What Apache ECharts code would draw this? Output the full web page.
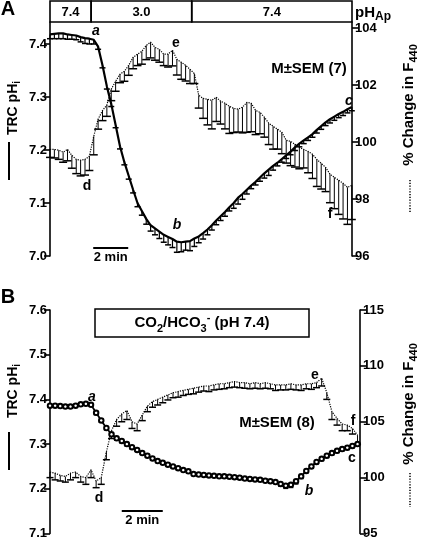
<!DOCTYPE html>
<html><head><meta charset="utf-8">
<script src="https://cdn.jsdelivr.net/npm/echarts@6/dist/echarts.min.js"></script>
<style>html,body{margin:0;padding:0;background:#fff}#c{width:422px;height:540px}</style>
</head><body><div id="c"></div>
<script>
// ---------- Panel A data (time in min) ----------
const timeA = [0,0.25,0.5,0.75,1,1.25,1.5,1.75,2,2.25,2.5,2.75,3,3.25,3.5,3.75,4,4.25,4.5,4.75,5,5.25,5.5,5.75,6,6.25,6.5,6.75,7,7.25,7.5,7.75,8,8.25,8.5,8.75,9,9.25,9.5,9.75,10,10.25,10.5,10.75,11,11.25,11.5,11.75,12,12.25,12.5,12.75,13,13.25,13.5,13.75,14,14.25,14.5,14.75,15,15.25,15.5,15.75,16,16.25,16.5,16.75,17,17.25];
const pHiA = [7.418,7.419,7.420,7.420,7.418,7.417,7.416,7.413,7.411,7.410,7.408,7.395,7.36,7.32,7.287,7.247,7.207,7.177,7.151,7.125,7.10,7.085,7.07,7.058,7.052,7.046,7.040,7.036,7.032,7.027,7.026,7.027,7.028,7.033,7.037,7.043,7.050,7.058,7.067,7.075,7.083,7.092,7.100,7.110,7.117,7.125,7.133,7.140,7.148,7.156,7.163,7.170,7.176,7.183,7.190,7.197,7.205,7.212,7.218,7.224,7.230,7.238,7.245,7.252,7.258,7.263,7.268,7.272,7.277,7.281];
const pHiA_sem = [0.008,0.009,0.010,0.010,0.009,0.008,0.008,0.009,0.010,0.010,0.008,0.005,0.005,0.005,0.005,0.005,0.005,0.005,0.006,0.006,0.007,0.008,0.010,0.011,0.012,0.013,0.014,0.015,0.016,0.020,0.018,0.016,0.018,0.015,0.012,0.011,0.010,0.009,0.008,0.008,0.008,0.007,0.010,0.012,0.010,0.008,0.006,0.006,0.007,0.009,0.011,0.008,0.006,0.006,0.006,0.006,0.006,0.006,0.006,0.006,0.006,0.006,0.006,0.006,0.007,0.007,0.007,0.007,0.007,0.007];
const f440A = [99.74,99.74,99.71,99.64,99.74,99.53,99.39,99.36,99.39,99.50,100.2,100.8,101.1,101.3,101.85,102.13,102.38,102.48,102.69,102.97,103.08,103.18,103.39,103.5,103.32,103.25,103.08,103.08,103.22,102.9,102.8,102.69,102.55,102.4,101.64,101.53,101.5,101.46,101.57,101.43,101.36,101.25,101.18,101.15,101.22,101.39,101.36,101.11,101.04,100.87,100.66,100.55,100.45,100.34,100.06,100.02,99.92,99.81,99.74,99.67,99.57,99.39,99.25,99.11,98.87,98.76,98.66,98.55,98.41,98.48];
const f440A_sem = [0.28,0.30,0.32,0.35,0.40,0.45,0.50,0.55,0.55,0.50,0.65,0.35,0.35,0.40,0.40,0.35,0.30,0.35,0.35,0.40,0.40,0.45,0.50,0.55,0.45,0.45,0.40,0.45,0.55,0.55,0.60,0.55,0.50,0.35,0.45,0.70,0.90,1.00,0.85,0.80,0.90,0.95,0.85,0.80,0.90,1.05,1.00,0.85,0.75,0.70,0.75,0.80,0.70,0.75,0.80,0.85,0.80,0.75,0.65,0.75,0.85,0.95,0.90,0.85,1.00,1.10,1.20,1.25,1.30,1.20];
const phApLabels = ['7.4','3.0','7.4'];
const phApStart = [0, 2.35, 8.1];
const phApEnd = [2.35, 8.1, 17.26];
const ticksALeft = [7.0,7.1,7.2,7.3,7.4];
const ticksARight = [96,98,100,102,104];

// ---------- Panel B data ----------
const timeB = [0,0.25,0.5,0.75,1,1.25,1.5,1.75,2,2.25,2.5,2.75,3,3.25,3.5,3.75,4,4.25,4.5,4.75,5,5.25,5.5,5.75,6,6.25,6.5,6.75,7,7.25,7.5,7.75,8,8.25,8.5,8.75,9,9.25,9.5,9.75,10,10.25,10.5,10.75,11,11.25,11.5,11.75,12,12.25,12.5,12.75,13,13.25,13.5,13.75,14,14.25,14.5,14.75,15];
const pHiB = [7.386,7.386,7.385,7.384,7.384,7.386,7.389,7.390,7.388,7.370,7.353,7.336,7.322,7.313,7.307,7.300,7.293,7.287,7.280,7.274,7.268,7.262,7.258,7.254,7.250,7.246,7.242,7.239,7.233,7.232,7.231,7.230,7.229,7.228,7.228,7.227,7.226,7.225,7.223,7.222,7.221,7.220,7.218,7.217,7.215,7.211,7.207,7.209,7.217,7.228,7.240,7.250,7.260,7.267,7.274,7.280,7.285,7.289,7.292,7.296,7.300];
const pHiB_sem = [0.003,0.003,0.003,0.003,0.003,0.003,0.003,0.003,0.003,0.004,0.004,0.004,0.004,0.004,0.004,0.004,0.004,0.003,0.003,0.003,0.003,0.003,0.003,0.003,0.003,0.003,0.003,0.003,0.003,0.003,0.003,0.003,0.003,0.003,0.003,0.003,0.003,0.003,0.003,0.003,0.003,0.003,0.003,0.003,0.003,0.005,0.006,0.006,0.006,0.005,0.004,0.004,0.004,0.004,0.004,0.004,0.004,0.004,0.004,0.004,0.004];
const f440B = [100.5,100.4,100.2,100.1,100.4,100.5,100.1,100.0,100.7,99.7,100.0,102.3,104.2,105.2,105.7,106.0,105.0,104.8,105.6,106.4,106.8,107.0,107.2,107.4,107.6,107.7,107.8,107.9,108.0,108.1,108.2,108.2,108.3,108.4,108.4,108.5,108.6,108.5,108.5,108.4,108.5,108.4,108.5,108.4,108.3,108.3,108.3,108.4,108.3,108.3,108.4,108.4,108.5,108.9,107.6,105.9,105.3,104.8,104.7,104.4,103.8];
const f440B_sem = [0.5,0.6,0.5,0.5,0.6,0.5,0.5,0.6,0.7,0.6,0.6,0.7,0.7,0.6,0.7,0.8,0.6,0.6,0.5,0.5,0.5,0.5,0.5,0.45,0.45,0.5,0.45,0.45,0.5,0.45,0.45,0.5,0.45,0.5,0.45,0.45,0.5,0.45,0.5,0.45,0.5,0.45,0.5,0.45,0.5,0.45,0.45,0.5,0.45,0.5,0.45,0.5,0.45,0.7,0.6,0.7,0.6,0.6,0.5,0.5,0.8];
const ticksBLeft = [7.1,7.2,7.3,7.4,7.5,7.6];
const ticksBRight = [95,100,105,110,115];

const FONT = 'Arial, "Liberation Sans", Helvetica, sans-serif';
const chart = echarts.init(document.getElementById('c'), null, {renderer:'canvas'});

function yAx(gi, pos, min, max, ticks, dec) {
  return {
    type:'value', gridIndex:gi, position:pos, min, max,
    axisLine:{show:true, onZero:false, lineStyle:{color:'#000', width:1.6}},
    axisTick:{show:true, inside:false, length:6, lineStyle:{color:'#000', width:1.6}, customValues:ticks},
    axisLabel:{show:true, customValues:ticks, color:'#000', fontFamily:FONT, fontWeight:'bold', fontSize:13, margin:3,
      formatter:v => v.toFixed(dec)},
    splitLine:{show:false}
  };
}
function xAx(gi, max) {
  return {type:'value', gridIndex:gi, min:0, max, show:false};
}
function pairs(t, v) { return t.map((x,i)=>[x, v[i]]); }
function errSeries(xi, yi, t, m, s, cap, lw) {
  return {
    type:'custom', xAxisIndex:xi, yAxisIndex:yi, silent:true, z:3,
    data:t.map((x,i)=>[x, m[i], s[i]]), encode:{x:0, y:1},
    renderItem:(params, api) => {
      const x = api.value(0), mv = api.value(1), sv = api.value(2);
      const p1 = api.coord([x, mv]), p2 = api.coord([x, mv - sv]);
      return {type:'group', children:[
        {type:'line', shape:{x1:p1[0], y1:p1[1], x2:p2[0], y2:p2[1]}, style:{stroke:'#000', lineWidth:lw}},
        {type:'line', shape:{x1:p2[0]-cap/2, y1:p2[1], x2:p2[0]+cap/2, y2:p2[1]}, style:{stroke:'#000', lineWidth:1.5}}
      ]};
    }
  };
}
function txt(x, y, text, font, align) {
  return {type:'text', x, y, z:10, style:{text, font, fill:'#000', align:align||'center', verticalAlign:'middle'}};
}
function rotTitle(x, y, main, sub, size) {
  return {type:'text', x, y, rotation:Math.PI/2, z:10, style:{
    text:'{a|' + main + '}{s|' + sub + '}', align:'center', verticalAlign:'middle',
    rich:{a:{fontFamily:FONT, fontWeight:'bold', fontSize:size, fill:'#000', lineHeight:size+5},
          s:{fontFamily:FONT, fontWeight:'bold', fontSize:size-4, fill:'#000', verticalAlign:'bottom'}}
  }};
}

const option = {
  animation:false,
  backgroundColor:'#fff',
  grid:[
    {left:50, width:302, top:22, height:234},   // A
    {left:50, width:310, top:310, height:225},  // B
    {left:50, width:302, top:1, height:21}      // A header
  ],
  xAxis:[xAx(0, 17.26), xAx(1, 15.12), xAx(2, 17.26)],
  yAxis:[
    yAx(0, 'left', 7.0, 7.4415, ticksALeft, 1),
    yAx(0, 'right', 96, 104.21, ticksARight, 0),
    yAx(1, 'left', 7.1, 7.6, ticksBLeft, 1),
    yAx(1, 'right', 95, 115, ticksBRight, 0),
    {type:'value', gridIndex:2, min:0, max:1, show:false}
  ],
  series:[
    // Header of panel A
    {type:'custom', xAxisIndex:2, yAxisIndex:4, silent:true,
     data:phApStart.map((s,i)=>[s, phApEnd[i]]), encode:{x:[0,1]},
     renderItem:(params, api) => {
       const a = api.coord([api.value(0), 1]), b = api.coord([api.value(1), 0]);
       return {type:'group', children:[
         {type:'rect', shape:{x:a[0], y:a[1], width:b[0]-a[0], height:b[1]-a[1]}, style:{fill:'none', stroke:'#000', lineWidth:1.6}},
         {type:'text', style:{text:phApLabels[params.dataIndex], x:(a[0]+b[0])/2, y:(a[1]+b[1])/2+1, align:'center', verticalAlign:'middle',
           fontFamily:FONT, fontWeight:'bold', fontSize:13, fill:'#000'}}
       ]};
     }},
    // Panel A F440
    errSeries(0, 1, timeA, f440A, f440A_sem, 8, 1),
    {type:'line', xAxisIndex:0, yAxisIndex:1, data:pairs(timeA, f440A), symbol:'none', silent:true,
     lineStyle:{color:'#000', width:1.2, type:'dotted'}, z:4},
    // Panel A pHi
    errSeries(0, 0, timeA, pHiA, pHiA_sem, 6, 1.2),
    {type:'line', xAxisIndex:0, yAxisIndex:0, data:pairs(timeA, pHiA), symbol:'none', silent:true,
     lineStyle:{color:'#000', width:2.2}, z:5,
     markLine:{silent:true, symbol:'none', animation:false,
       lineStyle:{color:'#000', width:2, type:'solid'},
       label:{show:true, position:'insideMiddleBottom', distance:3, formatter:'2 min', color:'#000', fontFamily:FONT, fontWeight:'bold', fontSize:13},
       data:[[{coord:[2.47, 7.016]}, {coord:[4.47, 7.016]}]]}},
    // Panel B F440
    errSeries(1, 3, timeB, f440B, f440B_sem, 7, 1),
    {type:'line', xAxisIndex:1, yAxisIndex:3, data:pairs(timeB, f440B), symbol:'none', silent:true,
     lineStyle:{color:'#000', width:1.2, type:'dotted'}, z:4},
    // Panel B pHi
    errSeries(1, 2, timeB, pHiB, pHiB_sem, 5, 1),
    {type:'line', xAxisIndex:1, yAxisIndex:2, data:pairs(timeB, pHiB), symbol:'emptyCircle', symbolSize:4.5, silent:true,
     itemStyle:{color:'#000', borderColor:'#000', borderWidth:1.5}, lineStyle:{color:'#000', width:1.8}, z:5,
     markLine:{silent:true, symbol:'none', animation:false,
       lineStyle:{color:'#000', width:2, type:'solid'},
       label:{show:true, position:'insideMiddleBottom', distance:3, formatter:'2 min', color:'#000', fontFamily:FONT, fontWeight:'bold', fontSize:13},
       data:[[{coord:[3.50, 7.150]}, {coord:[5.50, 7.150]}]]}}
  ],
  graphic:[
    txt(8, 9, 'A', 'bold 20px ' + FONT),
    txt(8, 297, 'B', 'bold 20px ' + FONT),
    {type:'text', x:355, y:13, z:10, style:{text:'{a|pH}{s|Ap}', align:'left', verticalAlign:'middle',
      rich:{a:{fontFamily:FONT, fontWeight:'bold', fontSize:15, fill:'#000', lineHeight:20},
            s:{fontFamily:FONT, fontWeight:'bold', fontSize:12, fill:'#000', verticalAlign:'bottom'}}}},
    rotTitle(13, 108, 'TRC pH', 'i', 14),
    rotTitle(13, 391, 'TRC pH', 'i', 14),
    rotTitle(409, 105, '% Change in F', '440', 15),
    rotTitle(409, 404, '% Change in F', '440', 15),
    {type:'line', shape:{x1:9, y1:142, x2:9, y2:180}, style:{stroke:'#000', lineWidth:2}},
    {type:'line', shape:{x1:9, y1:432, x2:9, y2:470}, style:{stroke:'#000', lineWidth:2}},
    {type:'line', shape:{x1:410, y1:180, x2:410, y2:213}, style:{stroke:'#000', lineWidth:1.5, lineDash:[1.2,1.6]}},
    {type:'line', shape:{x1:410, y1:473, x2:410, y2:507}, style:{stroke:'#000', lineWidth:1.5, lineDash:[1.2,1.6]}},
    txt(309, 69, 'M±SEM (7)', 'bold 15px ' + FONT),
    txt(277, 423, 'M±SEM (8)', 'bold 15px ' + FONT),
    {type:'rect', shape:{x:95, y:309, width:214, height:28}, style:{fill:'#fff', stroke:'#000', lineWidth:1.5}},
    {type:'text', x:202, y:323, z:10, style:{text:'{a|CO}{s|2}{a|/HCO}{s|3}{p|-}{a| (pH 7.4)}', align:'center', verticalAlign:'middle',
      rich:{a:{fontFamily:FONT, fontWeight:'bold', fontSize:15, fill:'#000', lineHeight:22},
            s:{fontFamily:FONT, fontWeight:'bold', fontSize:11, fill:'#000', verticalAlign:'bottom'},
            p:{fontFamily:FONT, fontWeight:'bold', fontSize:11, fill:'#000', verticalAlign:'top'}}}},
    // point letters panel A
    txt(96, 31, 'a', 'italic bold 14px ' + FONT),
    txt(176, 43, 'e', 'bold 14px ' + FONT),
    txt(349, 101, 'c', 'italic bold 14px ' + FONT),
    txt(87, 186, 'd', 'bold 14px ' + FONT),
    txt(177, 225, 'b', 'italic bold 14px ' + FONT),
    txt(330, 214, 'f', 'bold 14px ' + FONT),
    // point letters panel B
    txt(92, 397, 'a', 'italic bold 14px ' + FONT),
    txt(315, 375, 'e', 'bold 14px ' + FONT),
    txt(99, 498, 'd', 'bold 14px ' + FONT),
    txt(309, 491, 'b', 'italic bold 14px ' + FONT),
    txt(352, 458, 'c', 'bold 14px ' + FONT),
    txt(353, 421, 'f', 'bold 14px ' + FONT)
  ]
};
chart.setOption(option);
</script>
</body></html>
